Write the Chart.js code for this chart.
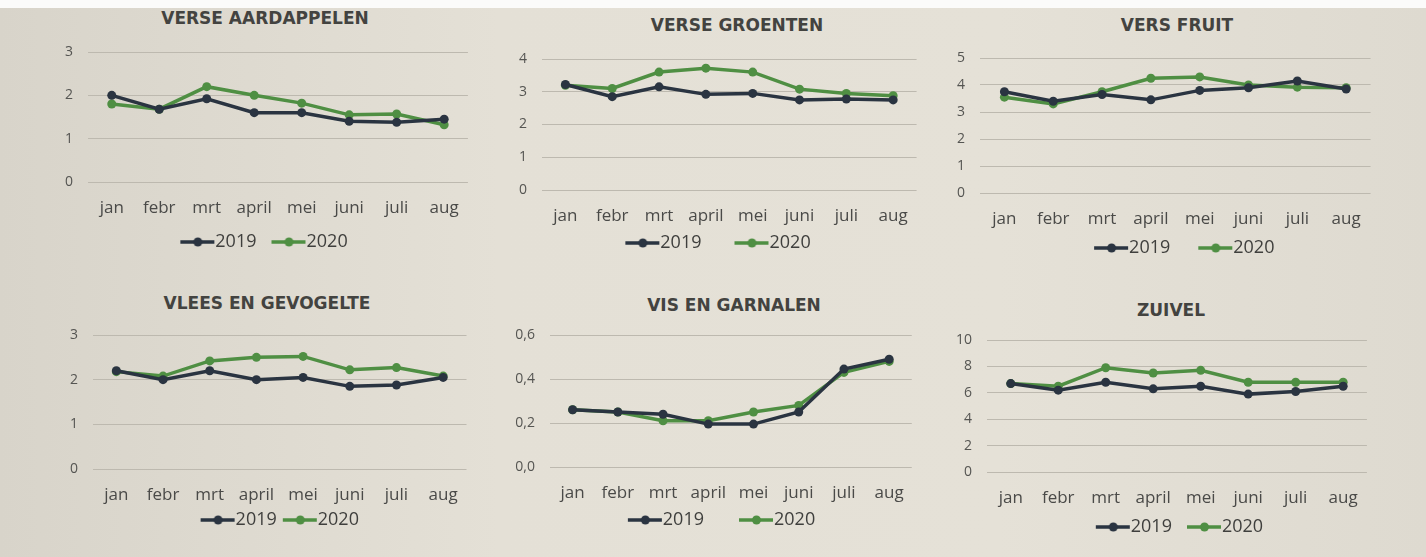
<!DOCTYPE html>
<html>
<head>
<meta charset="utf-8">
<script src="https://cdn.jsdelivr.net/npm/chart.js@4.4.1/dist/chart.umd.min.js"></script>
<style>
  html, body { margin: 0; padding: 0; }
  body {
    width: 1426px; height: 557px; overflow: hidden; position: relative;
    background: linear-gradient(90deg, #d8d4ca 0%, #e4e0d6 35%, #e5e1d7 70%, #dedad0 100%);
  }
  .topstrip { position: absolute; left: 0; top: 0; width: 1426px; height: 8px; background: #fbfbfa; }
  .box { position: absolute; }
  .title {
    position: absolute; width: 400px; height: 20px; line-height: 20px; text-align: center;
    font-family: "DejaVu Sans", sans-serif; font-weight: bold; font-size: 17px; color: #434340;
  }
</style>
</head>
<body>
<div class="topstrip"></div>
<div id="charts"></div>
<script>
// Data
const months = ["jan", "febr", "mrt", "april", "mei", "juni", "juli", "aug"]
const years = ["2019", "2020"]

const titles = ["VERSE AARDAPPELEN", "VERSE GROENTEN", "VERS FRUIT", "VLEES EN GEVOGELTE", "VIS EN GARNALEN", "ZUIVEL"]

const aardappelen2019 = [2.0, 1.68, 1.92, 1.6, 1.6, 1.4, 1.38, 1.45]
const aardappelen2020 = [1.8, 1.68, 2.2, 2.0, 1.82, 1.55, 1.57, 1.32]

const groenten2019 = [3.22, 2.85, 3.15, 2.92, 2.95, 2.75, 2.78, 2.75]
const groenten2020 = [3.2, 3.1, 3.6, 3.72, 3.6, 3.08, 2.95, 2.88]

const fruit2019 = [3.75, 3.4, 3.65, 3.45, 3.8, 3.9, 4.15, 3.85]
const fruit2020 = [3.55, 3.3, 3.75, 4.25, 4.3, 4.0, 3.92, 3.9]

const vlees2019 = [2.2, 2.0, 2.2, 2.0, 2.05, 1.85, 1.88, 2.05]
const vlees2020 = [2.18, 2.08, 2.42, 2.5, 2.52, 2.22, 2.27, 2.08]

const vis2019 = [0.26, 0.25, 0.24, 0.195, 0.195, 0.25, 0.445, 0.49]
const vis2020 = [0.26, 0.25, 0.21, 0.21, 0.25, 0.28, 0.43, 0.48]

const zuivel2019 = [6.7, 6.2, 6.8, 6.3, 6.5, 5.9, 6.1, 6.5]
const zuivel2020 = [6.7, 6.5, 7.9, 7.5, 7.7, 6.8, 6.8, 6.8]

// y axis ranges per chart
const yMax = [3, 4, 5, 3, 0.6, 10]
const yStep = [1, 1, 1, 1, 0.2, 2]

const series = [
  [aardappelen2019, aardappelen2020],
  [groenten2019, groenten2020],
  [fruit2019, fruit2020],
  [vlees2019, vlees2020],
  [vis2019, vis2020],
  [zuivel2019, zuivel2020],
]

const colors = ["#2a3441", "#4f8f43"]

// Placement per chart: grid box, title centre, legend centre line / spacing
// gl/gr = grid left/right, gt/gb = top / zero gridline, tx/ty = title centre
// lc = legend y, pad = legend padding, boxW = legend marker box, yW = y axis width
const layouts = [
  { gl: 88, gr: 468, gt: 52, gb: 182, tx: 265, ty: 18, lc: 242, pad: 15, boxW: 26, yW: 35, full: true },
  { gl: 542, gr: 917, gt: 59, gb: 190, tx: 737, ty: 25, lc: 243, pad: 8, boxW: 51, yW: 55, full: true },
  { gl: 980, gr: 1370, gt: 58, gb: 193, tx: 1177, ty: 25, lc: 248, pad: 10, boxW: 44, yW: 30, full: false },
  { gl: 93, gr: 467, gt: 335, gb: 469, tx: 267, ty: 303, lc: 520, pad: 6, boxW: 26, yW: 30, full: false },
  { gl: 550, gr: 913, gt: 335, gb: 467, tx: 734, ty: 305, lc: 520, pad: 8, boxW: 53, yW: 54, full: true },
  { gl: 987, gr: 1367, gt: 340, gb: 472, tx: 1171, ty: 310, lc: 527, pad: 10, boxW: 31, yW: 34, full: false },
]

const LEGEND_FONT = 18
const LINE_LEN = 35
const TOP_PAD = 24
const X_PAD = 16
const EXTRA_R = 7 // room the x axis keeps for its last label

// legend marker: a line with a dot, ending right where the text starts
function legendMarker(color, boxW) {
  const c = document.createElement("canvas")
  c.width = boxW + LEGEND_FONT
  c.height = 12
  const g = c.getContext("2d")
  const x0 = c.width - LINE_LEN
  g.strokeStyle = color
  g.lineWidth = 3.5
  g.beginPath()
  g.moveTo(x0, 6)
  g.lineTo(c.width - 1, 6)
  g.stroke()
  g.fillStyle = color
  g.beginPath()
  g.arc(x0 + LINE_LEN / 2, 6, 4.5, 0, Math.PI * 2)
  g.fill()
  return c
}

const holder = document.getElementById("charts")

layouts.forEach((lay, i) => {
  // title as html text
  const t = document.createElement("div")
  t.className = "title"
  t.textContent = titles[i]
  t.style.left = (lay.tx - 200) + "px"
  t.style.top = (lay.ty - 10) + "px"
  holder.appendChild(t)

  const xH = (lay.lc - lay.gb) - lay.pad - LEGEND_FONT / 2
  const legendH = LEGEND_FONT + lay.pad + 10
  const box = document.createElement("div")
  box.className = "box"
  box.style.left = (lay.gl - lay.yW) + "px"
  box.style.top = (lay.gt - TOP_PAD) + "px"
  box.style.width = (lay.gr - lay.gl + lay.yW + EXTRA_R) + "px"
  box.style.height = (TOP_PAD + (lay.gb - lay.gt) + xH + legendH) + "px"
  const canvas = document.createElement("canvas")
  box.appendChild(canvas)
  holder.appendChild(box)

  const markers = colors.map((c) => legendMarker(c, lay.boxW))

  new Chart(canvas, {
    type: "line",
    data: {
      labels: months,
      datasets: years.map((yr, k) => ({
        label: yr,
        data: series[i][k],
        borderColor: colors[k],
        backgroundColor: colors[k],
        borderWidth: 3.5,
        pointRadius: 4.5,
        pointBorderWidth: 0,
        tension: 0,
      })),
    },
    options: {
      responsive: true,
      maintainAspectRatio: false,
      animation: false,
      layout: { padding: { top: TOP_PAD, left: 0, right: 0, bottom: 0 } },
      plugins: {
        legend: {
          position: "bottom",
          fullSize: lay.full,
          labels: {
            usePointStyle: true,
            pointStyleWidth: lay.boxW,
            padding: lay.pad,
            color: "#3f3f3d",
            font: { family: "Open Sans", size: LEGEND_FONT },
            generateLabels: (chart) =>
              chart.data.datasets.map((ds, k) => ({
                text: ds.label,
                pointStyle: markers[k],
                fontColor: "#3f3f3d",
                datasetIndex: k,
                hidden: false,
                lineWidth: 0,
              })),
          },
        },
        tooltip: { enabled: false },
      },
      scales: {
        x: {
          offset: true,
          grid: { display: false, drawTicks: false },
          border: { display: false },
          ticks: {
            color: "#4a4a48",
            padding: X_PAD,
            maxRotation: 0,
            autoSkip: false,
            font: { family: "Open Sans", size: 17 },
          },
          afterFit: (scale) => { scale.height = xH },
        },
        y: {
          min: 0,
          max: yMax[i],
          grid: { color: "#bdb9af", lineWidth: 1, drawTicks: false },
          border: { display: false },
          ticks: {
            stepSize: yStep[i],
            color: "#555552",
            padding: 15,
            font: { family: "Open Sans", size: 14 },
            callback: (v) => (yStep[i] < 1 ? v.toFixed(1).replace(".", ",") : v),
          },
          afterFit: (scale) => { scale.width = lay.yW },
        },
      },
    },
  })
})
</script>
</body>
</html>
